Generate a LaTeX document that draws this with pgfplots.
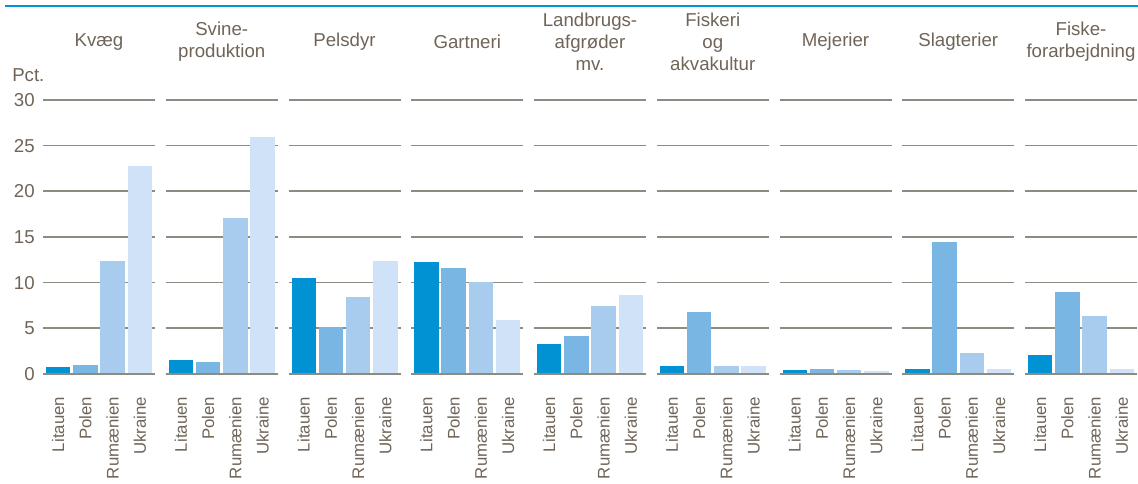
\documentclass[border=0pt]{standalone}
\usepackage{fontspec}
\setmainfont{Liberation Sans}
\usepackage{pgfplots}
\pgfplotsset{compat=1.18}

\definecolor{txt}{HTML}{6F6457}
\definecolor{grd}{HTML}{8C8C82}
\definecolor{cLit}{HTML}{0092D3}
\definecolor{cPol}{HTML}{7AB6E4}
\definecolor{cRum}{HTML}{A7CCEE}
\definecolor{cUkr}{HTML}{CFE2F7}
\definecolor{topline}{HTML}{0093D5}

\pgfplotsset{
  panel/.style={
    width=84pt, height=205.5pt, scale only axis,
    anchor=south west, clip=false,
    xmin=-0.56, xmax=3.56, ymin=0, ymax=30,
    ytick={0,5,...,30}, xtick={0,1,2,3},
    xticklabels={Litauen,Polen,Rumænien,Ukraine},
    axis line style={draw=none}, major tick length=0pt,
    ymajorgrids, grid style={grd, line width=1.25pt},
    yticklabels={},
    xticklabel style={rotate=90, anchor=east, inner sep=0pt,
      font=\fontsize{12.6}{14}\selectfont, text=txt},
    xticklabel shift=17pt,
    title style={at={(0.5,1)}, anchor=center, yshift=37.5pt, align=center,
      font=\fontsize{14}{16.5}\selectfont, text=txt, inner sep=0pt},
  },
}

% one panel: Litauen, Polen, Rumaenien, Ukraine
\newcommand{\panelbars}[4]{%
  \addplot[ybar, bar width=0.9, draw=none, fill=cLit] coordinates {(0,#1)};
  \addplot[ybar, bar width=0.9, draw=none, fill=cPol] coordinates {(1,#2)};
  \addplot[ybar, bar width=0.9, draw=none, fill=cRum] coordinates {(2,#3)};
  \addplot[ybar, bar width=0.9, draw=none, fill=cUkr] coordinates {(3,#4)};
  \draw[grd, line width=1.25pt] (rel axis cs:0,0) -- (rel axis cs:1,0);
}

\begin{document}
\begin{tikzpicture}
\path[use as bounding box] (0,0) rectangle (853.5pt,363pt);
\draw[topline, line width=1.5pt] (3.75pt,358.5pt) -- (853.5pt,358.5pt);

\begin{axis}[panel, at={(32.25pt,82.5pt)}, title={Kvæg},
  yticklabels={0,5,10,15,20,25,30},
  /pgf/number format/assume math mode=true,
  yticklabel style={anchor=east, inner sep=0pt, xshift=-6pt,
    font=\fontsize{14}{16}\selectfont, text=txt}]
\panelbars{0.75}{1.0}{12.4}{22.8}
\node[anchor=base west, inner sep=0pt, text=txt, font=\fontsize{14}{16}\selectfont]
  at (rel axis cs:0,1) [xshift=-23.25pt, yshift=13.5pt] {Pct.};
\end{axis}

\begin{axis}[panel, at={(124.31pt,82.5pt)}, title={Svine-\\produktion}]
\panelbars{1.5}{1.3}{17.1}{26.0}
\end{axis}

\begin{axis}[panel, at={(216.38pt,82.5pt)}, title={Pelsdyr}]
\panelbars{10.5}{5.2}{8.4}{12.4}
\end{axis}

\begin{axis}[panel, at={(308.44pt,82.5pt)}, title={Gartneri}]
\panelbars{12.3}{11.6}{10.1}{5.9}
\end{axis}

\begin{axis}[panel, at={(400.5pt,82.5pt)}, title={Landbrugs-\\afgrøder\\mv.}]
\panelbars{3.3}{4.2}{7.4}{8.7}
\end{axis}

\begin{axis}[panel, at={(492.56pt,82.5pt)}, title={Fiskeri\\og\\akvakultur}]
\panelbars{0.9}{6.8}{0.9}{0.9}
\end{axis}

\begin{axis}[panel, at={(584.63pt,82.5pt)}, title={Mejerier}]
\panelbars{0.45}{0.6}{0.45}{0.3}
\end{axis}

\begin{axis}[panel, at={(676.69pt,82.5pt)}, title={Slagterier}]
\panelbars{0.5}{14.5}{2.3}{0.5}
\end{axis}

\begin{axis}[panel, at={(768.75pt,82.5pt)}, title={Fiske-\\forarbejdning}]
\panelbars{2.1}{9.0}{6.3}{0.5}
\end{axis}
\end{tikzpicture}
\end{document}
